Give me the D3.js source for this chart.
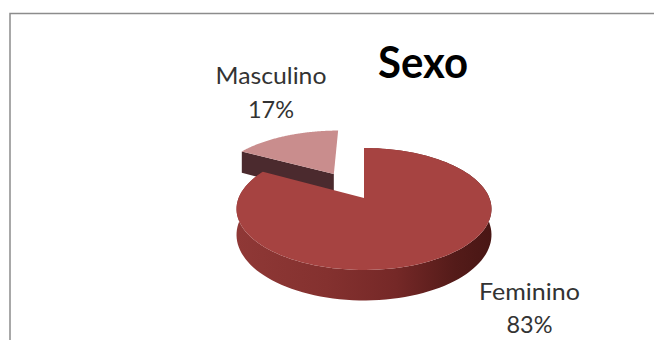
<!DOCTYPE html>
<html>
<head>
<meta charset="utf-8">
<style>
  html, body { margin: 0; padding: 0; background: #fff; }
  svg { display: block; }
  text { font-family: Lato, "Open Sans", sans-serif; text-anchor: middle; }
</style>
<script src="https://cdn.jsdelivr.net/npm/d3@7"></script>
</head>
<body>
<svg id="chart" width="654" height="340"></svg>
<script>
const title = "Sexo";
const categories = ["Feminino", "Masculino"];
const percentages = [83, 17];
const explodeBy = [0, 0.51];
const topColors = ["#a64341", "#c98d8d"];

const svg = d3.select("#chart");
const W = 654, H = 340;

// Perspective view of the pie's unit circle: u runs right, v runs toward the viewer.
const view = { cx: 364, cy: 198, rx: 125.4, ry: 59, tilt: -0.18, depth: 25 };
function project(u, v, lowered) {
  const w = 1 + view.tilt * v;
  return [
    view.cx + view.rx * u / w,
    view.cy + (view.ry * v + (lowered ? view.depth : 0)) / w
  ];
}

const pie = d3.pie().sort(null).value(d => d.value);
const slices = pie(categories.map((name, i) => ({
  name, value: percentages[i], explode: explodeBy[i], color: topColors[i]
})));

// Samples the rim of a slice on the unit circle, shifted outward along its mid angle.
function rim(slice) {
  const mid = (slice.startAngle + slice.endAngle) / 2;
  const off = [slice.data.explode * Math.sin(mid), -slice.data.explode * Math.cos(mid)];
  const angles = d3.range(0, 121).map(i => d3.interpolateNumber(slice.startAngle, slice.endAngle)(i / 120));
  return {
    off,
    pts: angles.map(a => [Math.sin(a) + off[0], -Math.cos(a) + off[1]])
  };
}

const line = d3.line();
const facePath = (slice) => {
  const { off, pts } = rim(slice);
  return line([off, ...pts].map(p => project(p[0], p[1], false))) + "Z";
};
const bandPath = (slice) => {
  const { pts } = rim(slice);
  const upper = pts.map(p => project(p[0], p[1], false));
  const lower = pts.map(p => project(p[0], p[1], true)).reverse();
  return line(upper.concat(lower)) + "Z";
};

const defs = svg.append("defs");
const sideGradient = defs.append("linearGradient")
  .attr("id", "side-shade")
  .attr("gradientUnits", "userSpaceOnUse")
  .attr("x1", 237).attr("x2", 493).attr("y1", 0).attr("y2", 0);
[[0, "#8f3836"], [0.35, "#84312f"], [0.62, "#752827"], [0.85, "#541b19"], [1, "#481614"]]
  .forEach(([o, c]) => sideGradient.append("stop").attr("offset", o).attr("stop-color", c));

// Frame: only the top and left rules of the chart area show.
svg.append("path")
  .attr("d", line([[10, H], [10, 13.5], [W, 13.5]]))
  .attr("fill", "none")
  .attr("stroke", "#8c8c8c")
  .attr("stroke-width", 1.5);

const [feminino, masculino] = slices;

// The pulled-out slice goes first, so the main body overlaps its cut wall.
const cut = rim(masculino);
svg.append("path").attr("fill", "#4b2a2e").attr("d", line(
  [cut.off, cut.pts[0]].map(p => project(p[0], p[1], false))
    .concat([cut.pts[0], cut.off].map(p => project(p[0], p[1], true)))
) + "Z");
svg.append("path").attr("fill", masculino.data.color).attr("d", facePath(masculino));

svg.append("path").attr("fill", "url(#side-shade)").attr("d", bandPath(feminino));
svg.append("path").attr("fill", feminino.data.color).attr("d", facePath(feminino));

// Title and the two category labels.
svg.append("text")
  .attr("x", 423).attr("y", 78)
  .attr("font-size", 43).attr("font-weight", 700).attr("fill", "#000")
  .attr("textLength", 90).attr("lengthAdjust", "spacingAndGlyphs")
  .text(title);

const labelPlaces = [
  { x: 529.5, y: [300, 333], widths: [101, 46] },
  { x: 271, y: [84, 118], widths: [111, 46] }
];
slices.forEach((s, i) => {
  const place = labelPlaces[i];
  const g = svg.append("g").attr("fill", "#333").attr("font-size", 24);
  [s.data.name, s.data.value + "%"].forEach((t, j) => {
    g.append("text")
      .attr("x", place.x).attr("y", place.y[j])
      .attr("textLength", place.widths[j]).attr("lengthAdjust", "spacingAndGlyphs")
      .text(t);
  });
});
</script>
</body>
</html>
